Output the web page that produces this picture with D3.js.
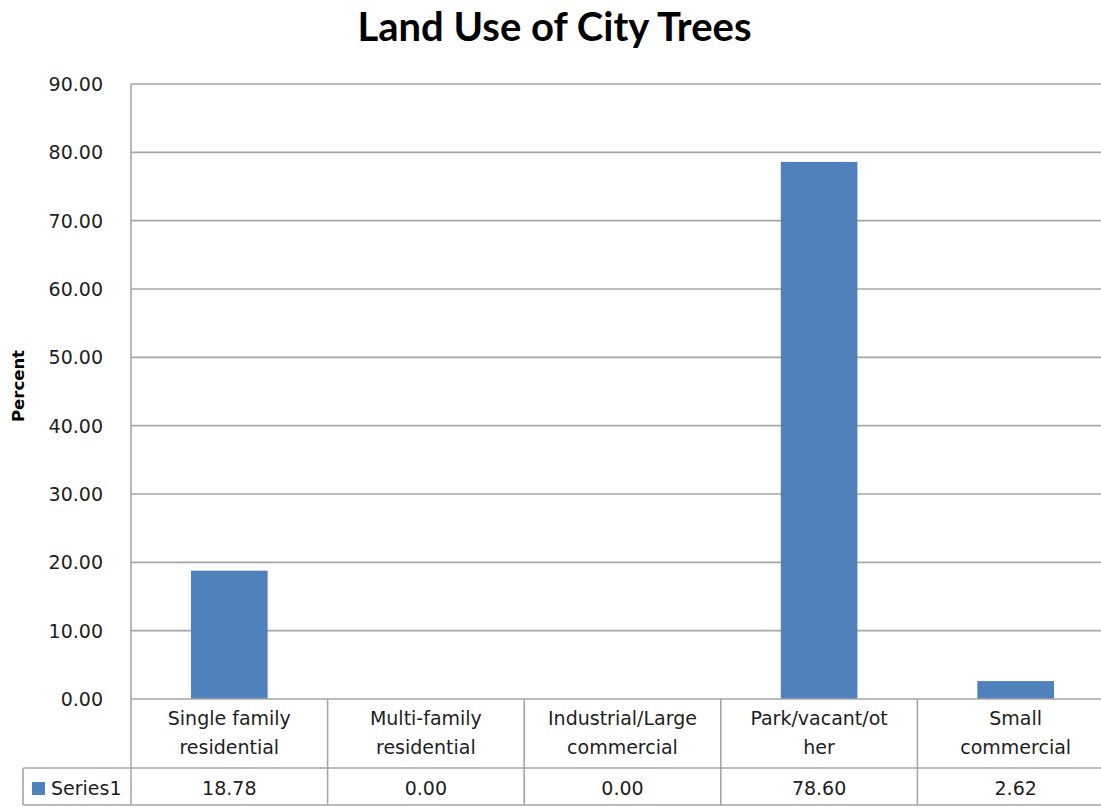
<!DOCTYPE html>
<html>
<head>
<meta charset="utf-8">
<title>Land Use of City Trees</title>
<script src="https://d3js.org/d3.v7.min.js"></script>
<style>
  body { margin: 0; background: #fff; overflow: hidden; }
  text { font-family: "DejaVu Sans", sans-serif; fill: #1e1e1e; }
</style>
</head>
<body>
<script>

// data
var categories = ["Single family residential", "Multi-family residential", "Industrial/Large commercial", "Park/vacant/other", "Small commercial"];
var labelLines = [["Single family", "residential"], ["Multi-family", "residential"], ["Industrial/Large", "commercial"], ["Park/vacant/ot", "her"], ["Small", "commercial"]];
var values = [18.78, 0.00, 0.00, 78.60, 2.62];
var yTicks = [0, 10, 20, 30, 40, 50, 60, 70, 80, 90];
var seriesName = "Series1";

var w = 1101, h = 807;
// note: "top" is taken by window.top, so plot edges get their own names
var plotLeft = 131, plotRight = 1114, plotTop = 84, plotBottom = 699;
var row1 = 768, row2 = 805, tableLeft = 23;
var barColor = "#4f81bd", gridColor = "#a6a6a6";

var svg = d3.select("body").append("svg")
  .attr("width", w)
  .attr("height", h);

var xScale = d3.scaleBand()
  .domain(categories)
  .range([plotLeft, plotRight])
  .padding(0);

var yScale = d3.scaleLinear()
  .domain([0, 90])
  .range([plotBottom, plotTop]);

// title
svg.append("text")
  .attr("x", w / 2 + 4)
  .attr("y", 41)
  .attr("text-anchor", "middle")
  .style("font-family", "Lato, sans-serif")
  .style("font-weight", "bold")
  .style("font-size", "40px")
  .style("fill", "#000")
  .text("Land Use of City Trees");

// y axis title
svg.append("text")
  .attr("transform", "translate(24,386) rotate(-90)")
  .attr("text-anchor", "middle")
  .style("font-weight", "bold")
  .style("font-size", "16.5px")
  .style("fill", "#000")
  .text("Percent");

// gridlines
svg.selectAll(".grid")
  .data(yTicks.filter(function(d){ return d > 0; }))
  .enter().append("line")
  .attr("x1", plotLeft)
  .attr("x2", plotRight)
  .attr("y1", function(d){ return yScale(d); })
  .attr("y2", function(d){ return yScale(d); })
  .attr("stroke", gridColor)
  .attr("stroke-width", 1.6);

// tick labels
svg.selectAll(".tick-label")
  .data(yTicks)
  .enter().append("text")
  .attr("x", 103)
  .attr("y", function(d){ return yScale(d); })
  .attr("text-anchor", "end")
  .attr("dominant-baseline", "central")
  .style("font-size", "19px")
  .text(function(d){ return d3.format(".2f")(d); });

// bars
var barW = xScale.bandwidth() * 0.39;
svg.selectAll(".bar")
  .data(values)
  .enter().append("rect")
  .attr("x", function(d, i){ return xScale(categories[i]) + (xScale.bandwidth() - barW) / 2; })
  .attr("width", barW)
  .attr("y", function(d){ return yScale(d); })
  .attr("height", function(d){ return plotBottom - yScale(d); })
  .attr("fill", barColor);

// axis frame + data table lines
var lines = svg.append("g")
  .attr("stroke", gridColor)
  .attr("stroke-width", 1.6);

lines.append("line").attr("x1", plotLeft).attr("x2", plotLeft).attr("y1", plotTop).attr("y2", row2);
lines.append("line").attr("x1", plotLeft).attr("x2", plotRight).attr("y1", plotBottom).attr("y2", plotBottom);
lines.append("line").attr("x1", tableLeft).attr("x2", plotRight).attr("y1", row1).attr("y2", row1);
lines.append("line").attr("x1", tableLeft).attr("x2", plotRight).attr("y1", row2).attr("y2", row2);
lines.append("line").attr("x1", tableLeft).attr("x2", tableLeft).attr("y1", row1).attr("y2", row2);

lines.selectAll(".sep")
  .data(categories.slice(1))
  .enter().append("line")
  .attr("x1", function(d){ return xScale(d); })
  .attr("x2", function(d){ return xScale(d); })
  .attr("y1", plotBottom)
  .attr("y2", row2);

// category labels
var cat = svg.selectAll(".cat")
  .data(categories)
  .enter().append("text")
  .attr("text-anchor", "middle")
  .style("font-size", "19px");

cat.selectAll("tspan")
  .data(function(d, i){
    return labelLines[i].map(function(t, j){ return {t: t, j: j, x: xScale(d) + xScale.bandwidth() / 2}; });
  })
  .enter().append("tspan")
  .attr("x", function(d){ return d.x; })
  .attr("y", function(d){ return 725 + d.j * 29; })
  .text(function(d){ return d.t; });

// legend key in the table
svg.append("rect")
  .attr("x", 32).attr("y", 782)
  .attr("width", 13).attr("height", 13)
  .attr("fill", barColor);

svg.append("text")
  .attr("x", 51)
  .attr("y", 795)
  .style("font-size", "19px")
  .text(seriesName);

// table values
svg.selectAll(".val")
  .data(values)
  .enter().append("text")
  .attr("x", function(d, i){ return xScale(categories[i]) + xScale.bandwidth() / 2; })
  .attr("y", 795)
  .attr("text-anchor", "middle")
  .style("font-size", "19px")
  .text(function(d){ return d3.format(".2f")(d); });

</script>
</body>
</html>
